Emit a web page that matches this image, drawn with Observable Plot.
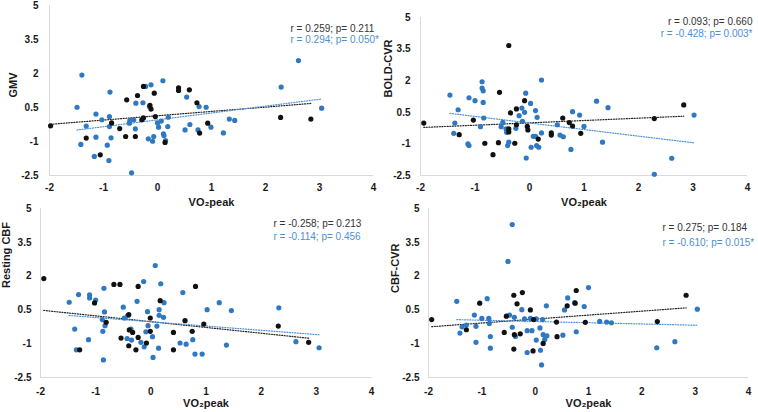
<!DOCTYPE html>
<html><head><meta charset="utf-8">
<script src="https://cdn.jsdelivr.net/npm/d3@7"></script>
<script src="https://cdn.jsdelivr.net/npm/@observablehq/plot@0.6"></script>
<style>
body{margin:0;background:#fff;}
#wrap{position:relative;width:758px;height:412px;overflow:hidden;background:#fff;}
#wrap > div{position:absolute;}
#wrap svg{background:none !important;overflow:visible;}
</style></head><body><div id="wrap"></div>
<script>
const xTicks = [-2, -1, 0, 1, 2, 3, 4];
const yTicks = [-2.5, -1, 0.5, 2, 3.5, 5];
const xLabel = "VO₂peak";

// Panel 1: GMV
const gmvLabel = "GMV";
const gmvStats = ["r = 0.259; p= 0.211", "r = 0.294; p= 0.050*"];
const gmvBlackX = [-1.98,-1.32,-1.06,-0.85,-0.70,-0.59,-0.57,-0.41,-0.37,-0.29,-0.26,-0.26,-0.12,-0.14,-0.06,-0.04,0.14,0.39,0.39,0.59,0.73,0.93,0.78,2.28,2.84];
const gmvBlackY = [-0.31,-0.85,-1.59,-0.18,-0.43,-0.78,0.84,-0.78,1.03,-0.04,0.04,1.43,0.43,0.59,1.13,0.10,-1.04,1.37,1.25,1.28,0.71,-0.19,-0.63,0.06,-0.01];
const gmvBlueX = [-1.40,-1.49,-1.42,-1.32,-1.14,-1.03,-1.14,-1.17,-0.93,-0.90,-0.88,-0.89,-0.89,-0.86,-0.48,-0.52,-0.51,-0.44,-0.41,-0.40,-0.27,-0.22,-0.15,-0.12,-0.17,-0.07,-0.09,0.10,0.00,0.02,0.07,0.11,0.12,0.15,0.20,0.19,0.54,0.60,0.51,0.77,0.90,0.75,0.99,1.22,1.33,1.43,2.29,2.61,3.04];
const gmvBlueY = [1.93,0.51,-1.13,-0.32,0.21,-0.04,-0.81,-1.66,-1.16,-1.84,1.18,0.10,-0.34,-0.84,-2.38,-0.19,-0.07,-0.04,-0.44,0.69,0.71,1.43,0.54,1.50,-0.88,-0.78,-0.99,1.68,-0.18,-0.37,-0.10,-0.66,-0.74,-0.96,0.07,-0.34,0.96,-0.25,-0.49,0.54,0.51,-0.49,-0.37,-0.62,-0.01,-0.07,1.40,2.57,0.47];

// Panel 2: BOLD-CVR
const boldLabel = "BOLD-CVR";
const boldStats = ["r = 0.093; p= 0.660", "r = -0.428; p= 0.003*"];
const boldBlackX = [-1.94,-1.29,-1.03,-0.82,-0.57,-0.55,-0.67,-0.38,-0.38,-0.38,-0.35,-0.27,-0.24,-0.24,-0.09,-0.04,-0.03,0.16,0.40,0.40,0.61,0.73,0.79,0.94,2.29,2.83];
const boldBlackY = [-0.01,-0.56,0.13,-0.97,-0.94,1.45,-1.51,3.67,-0.29,-0.43,0.47,-0.97,0.66,-0.09,1.05,-0.17,-0.34,-0.77,-0.48,-0.58,0.23,0.01,-0.15,-0.50,0.20,0.85];
const boldBlueX = [-1.46,-1.31,-1.37,-1.39,-1.11,-1.00,-1.13,-1.11,-0.90,-0.87,-0.87,-0.85,-0.85,-0.84,-0.52,-0.49,-0.43,-0.42,-0.38,-0.40,-0.25,-0.19,-0.14,-0.13,-0.09,-0.07,-0.06,0.02,0.03,0.07,0.11,0.14,0.11,0.13,0.17,0.22,0.22,0.51,0.56,0.62,0.79,0.76,0.92,1.00,1.23,1.34,1.44,2.29,2.61,3.02];
const boldBlueY = [1.32,0.62,-0.01,-0.50,1.19,1.05,-1.00,-1.08,-0.18,1.95,1.65,1.52,0.97,0.23,-0.18,0.02,-0.29,-0.45,-0.92,-1.08,-0.26,0.34,0.70,0.07,0.50,1.41,-1.67,0.92,-1.16,-0.64,0.58,0.26,-0.64,-1.08,-1.16,-0.48,2.03,-0.09,-0.58,-0.66,0.53,-1.26,0.37,-0.17,1.03,-0.92,0.72,-2.44,-1.68,0.37];

// Panel 3: Resting CBF
const cbfLabel = "Resting CBF";
const cbfStats = ["r = -0.258; p= 0.213", "r = -0.114; p= 0.456"];
const cbfBlackX = [-1.94,-1.29,-1.02,-0.81,-0.67,-0.56,-0.54,-0.40,-0.39,-0.40,-0.33,-0.27,-0.23,-0.23,-0.08,-0.01,-0.01,0.17,0.41,0.41,0.62,0.75,0.81,0.96,2.31,2.86];
const cbfBlackY = [1.89,-1.27,0.81,-0.05,1.63,1.63,-0.75,0.29,-0.39,-1.09,-0.50,-1.27,-0.72,1.54,-0.97,0.14,-0.45,0.91,-0.50,-1.27,0.02,-0.45,1.54,-0.13,-0.22,-0.94];
const cbfBlueX = [-1.48,-1.31,-1.38,-1.35,-1.11,-1.11,-1.00,-1.13,-0.88,-0.87,-0.86,-0.85,-0.84,-0.83,-0.50,-0.48,-0.42,-0.43,-0.36,-0.35,-0.25,-0.18,-0.13,-0.12,-0.09,-0.06,-0.05,0.03,0.04,0.08,0.11,0.14,0.15,0.15,0.18,0.23,0.24,0.53,0.58,0.64,0.76,0.80,0.93,1.02,1.24,1.37,1.46,2.32,2.63,3.05];
const cbfBlueY = [0.84,1.18,-0.35,-1.27,1.17,1.03,0.94,-0.82,0.07,-0.45,-1.72,1.46,0.41,-0.20,0.62,0.14,0.25,-0.77,-0.35,-0.84,0.88,-0.94,1.76,-1.14,-0.47,0.42,-0.20,-0.69,-1.61,2.47,-0.22,-1.20,0.51,0.26,1.66,0.17,0.82,-0.97,1.27,-1.02,-0.82,-1.46,-1.46,0.51,0.82,-1.06,0.47,0.59,-0.91,-1.18];

// Panel 4: CBF-CVR
const cvrLabel = "CBF-CVR";
const cvrStats = ["r = 0.275; p= 0.184", "r = -0.610; p= 0.015*"];
const cvrBlackX = [-1.94,-1.29,-1.04,-0.58,-0.54,-0.40,-0.39,-0.40,-0.34,-0.28,-0.24,-0.09,-0.04,-0.03,0.15,0.40,0.41,0.60,0.77,0.75,0.94,2.29,2.83];
const cvrBlackY = [0.07,-0.38,0.80,-0.50,0.22,1.15,-0.60,-1.24,0.77,-0.56,1.27,0.50,-1.32,0.07,-0.99,-0.04,-0.69,0.68,1.36,0.80,-0.05,-0.02,1.15];
const cvrBlueX = [-1.47,-1.41,-1.37,-1.29,-1.14,-1.11,-1.11,-1.00,-0.90,-0.87,-0.86,-0.84,-0.84,-0.48,-0.43,-0.51,-0.43,-0.39,-0.37,-0.25,-0.20,-0.15,-0.15,-0.09,-0.06,0.02,0.02,0.09,0.10,0.12,0.14,0.15,0.18,0.22,0.21,0.52,0.55,0.61,0.74,0.77,0.92,1.00,1.21,1.34,1.43,2.28,2.62,3.04];
const cvrBlueY = [0.88,-0.53,-0.25,-0.17,0.27,-0.23,-0.94,0.12,1.00,0.12,-0.10,-0.68,-1.20,0.27,4.29,2.65,-0.27,0.17,-0.68,0.51,0.10,-0.42,-1.39,0.12,-0.42,0.10,-0.84,-0.30,-1.29,-1.94,0.07,-0.60,-0.81,-0.65,0.68,-0.62,0.50,1.03,0.82,-0.47,0.65,1.49,-0.01,-0.04,-0.07,-1.18,-0.91,0.53];

const BLUE = "#2f79c3";
const BLUE_TEXT = "#4d8fd3";
const BLUE_LINE = "#4f93d6";
const BLACK = "#111111";
const FONT = "'Liberation Sans', Arial, Helvetica, sans-serif";

function pts(xs, ys) { return xs.map((x, i) => ({x, y: ys[i]})); }

function panel(o) {
  const black = pts(o.bx, o.by);
  const blue = pts(o.ux, o.uy);
  const p = Plot.plot({
    width: o.w, height: o.h,
    marginLeft: o.mL, marginRight: o.mR, marginTop: o.mT, marginBottom: o.mB,
    style: {fontFamily: FONT, fontSize: "10px", fontWeight: "bold", color: "#1a1a1a", background: "none", overflow: "visible"},
    x: {domain: [-2, 4]},
    y: {domain: [-2.5, 5]},
    marks: [
      Plot.ruleX([-2], {stroke: "#d9d9d9", strokeWidth: 1}),
      Plot.ruleY([-2.5], {stroke: "#d9d9d9", strokeWidth: 1}),
      Plot.axisX(xTicks, {tickSize: 0, tickPadding: o.padX, label: null, tickFormat: d => String(d)}),
      Plot.axisY(yTicks, {tickSize: 0, tickPadding: o.padY, label: null, tickFormat: d => String(d)}),
      Plot.linearRegressionY(black, {x: "x", y: "y", stroke: "#222", strokeWidth: 1.2, strokeDasharray: "1,1.6", ci: 0}),
      Plot.linearRegressionY(blue, {x: "x", y: "y", stroke: BLUE_LINE, strokeWidth: 1.2, strokeDasharray: "1,1.6", ci: 0}),
      Plot.dot(blue, {x: "x", y: "y", r: 2.6, fill: BLUE, stroke: null}),
      Plot.dot(black, {x: "x", y: "y", r: 2.6, fill: BLACK, stroke: null}),
      Plot.text([o.stats[0]], {frameAnchor: "top-right", textAnchor: o.statAnchor, lineAnchor: "middle", dx: o.statDx, dy: o.statDy[0], fill: "#333", fontWeight: "normal", fontSize: 10}),
      Plot.text([o.stats[1]], {frameAnchor: "top-right", textAnchor: o.statAnchor, lineAnchor: "middle", dx: o.statDx, dy: o.statDy[1], fill: BLUE_TEXT, fontWeight: "normal", fontSize: 10}),
      Plot.text([o.label], {frameAnchor: "left", rotate: -90, lineAnchor: "middle", dx: o.ylDx, dy: o.ylDy, fontSize: 11, fill: "#1a1a1a"}),
      Plot.text([xLabel], {frameAnchor: "bottom", lineAnchor: "middle", dy: o.xlDy, fontSize: 11, fill: "#1a1a1a"})
    ]
  });
  const d = document.createElement("div");
  d.style.left = o.left + "px"; d.style.top = o.top + "px";
  d.appendChild(p);
  document.getElementById("wrap").appendChild(d);
}

panel({bx: gmvBlackX, by: gmvBlackY, ux: gmvBlueX, uy: gmvBlueY, label: gmvLabel, stats: gmvStats,
  left: 0, top: 0, w: 380, h: 205, mL: 49, mR: 7, mT: 5, mB: 30, padX: 8, padY: 11,
  statAnchor: "start", statDx: -83, statDy: [23, 34], ylDx: -36, ylDy: 7, xlDy: 27});
panel({bx: boldBlackX, by: boldBlackY, ux: boldBlueX, uy: boldBlueY, label: boldLabel, stats: boldStats,
  left: 380, top: 0, w: 378, h: 205, mL: 40, mR: 11, mT: 17, mB: 30, padX: 8, padY: 10,
  statAnchor: "end", statDx: 5, statDy: [4, 16], ylDx: -32, ylDy: 1, xlDy: 27});
panel({bx: cbfBlackX, by: cbfBlackY, ux: cbfBlueX, uy: cbfBlueY, label: cbfLabel, stats: cbfStats,
  left: 0, top: 205, w: 380, h: 207, mL: 40, mR: 9, mT: 3, mB: 35, padX: 10, padY: 9,
  statAnchor: "start", statDx: -98, statDy: [15, 28], ylDx: -34, ylDy: -5, xlDy: 26});
panel({bx: cvrBlackX, by: cvrBlackY, ux: cvrBlueX, uy: cvrBlueY, label: cvrLabel, stats: cvrStats,
  left: 380, top: 205, w: 378, h: 207, mL: 48, mR: 10, mT: 3, mB: 35, padX: 10, padY: 9,
  statAnchor: "start", statDx: -86, statDy: [19, 34], ylDx: -33, ylDy: 0, xlDy: 26});
</script>
</body></html>
